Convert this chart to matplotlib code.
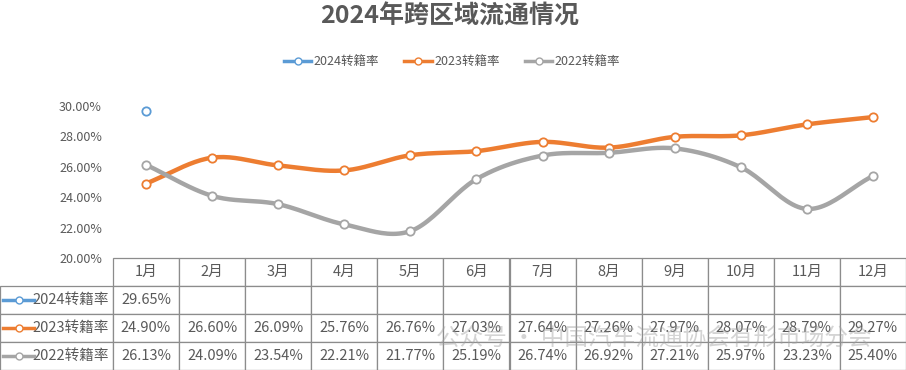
import numpy as np
import matplotlib.pyplot as plt
from matplotlib.lines import Line2D

plt.rcParams['font.family'] = ['Noto Sans CJK SC', 'DejaVu Sans']

months = ['1月', '2月', '3月', '4月', '5月', '6月', '7月', '8月', '9月', '10月', '11月', '12月']
rate_2024 = [29.65]
rate_2023 = [24.90, 26.60, 26.09, 25.76, 26.76, 27.03, 27.64, 27.26, 27.97, 28.07, 28.79, 29.27]
rate_2022 = [26.13, 24.09, 23.54, 22.21, 21.77, 25.19, 26.74, 26.92, 27.21, 25.97, 23.23, 25.40]
series_names = ['2024转籍率', '2023转籍率', '2022转籍率']
colors = ['#5B9BD5', '#ED7D31', '#A5A5A5']
text_gray = '#595959'


def smooth(y, n=24):
    # Catmull-Rom curve through the points, like a smoothed Excel line
    x = np.arange(len(y), dtype=float)
    y = np.asarray(y, dtype=float)
    px = np.concatenate([[2 * x[0] - x[1]], x, [2 * x[-1] - x[-2]]])
    py = np.concatenate([[2 * y[0] - y[1]], y, [2 * y[-1] - y[-2]]])
    xs, ys = [], []
    t = np.linspace(0, 1, n)
    for i in range(1, len(px) - 2):
        for p, out in ((px, xs), (py, ys)):
            p0, p1, p2, p3 = p[i - 1], p[i], p[i + 1], p[i + 2]
            out.extend(0.5 * ((2 * p1) + (-p0 + p2) * t
                              + (2 * p0 - 5 * p1 + 4 * p2 - p3) * t ** 2
                              + (-p0 + 3 * p1 - 3 * p2 + p3) * t ** 3))
    return xs, ys


W, H = 906, 370
fig = plt.figure(figsize=(W / 100, H / 100), dpi=100)
ax_left, ax_right, ax_bottom, ax_top = 113, 906, 258, 106
ax = fig.add_axes([ax_left / W, 1 - ax_bottom / H, (ax_right - ax_left) / W, (ax_bottom - ax_top) / H])

all_series = [rate_2024, rate_2023, rate_2022]
for vals, c in zip(all_series, colors):
    xi = np.arange(len(vals))
    if len(vals) > 1:
        sx, sy = smooth(vals)
        ax.plot(sx, sy, color=c, lw=3.2, solid_capstyle='round', zorder=2, clip_on=False)
    ax.plot(xi, vals, ls='none', marker='o', ms=6, mfc='white', mec=c, mew=1.3,
            zorder=3, clip_on=False)

ax.set_xlim(-0.5, 11.5)
ax.set_ylim(20, 30)
ax.set_yticks(np.arange(20, 31, 2))
ax.set_yticklabels([f'{v:.2f}%' for v in np.arange(20, 31, 2)], color=text_gray, fontsize=9)
ax.tick_params(axis='y', length=0, pad=8)
ax.set_xticks([])
for s in ax.spines.values():
    s.set_visible(False)

# data table under the plot; first column holds the series names
cell_text = []
for name, vals in zip(series_names, all_series):
    row = [name] + [f'{v:.2f}%' for v in vals] + [''] * (12 - len(vals))
    cell_text.append(row)

aw = (ax_right - ax_left)
ah = (ax_bottom - ax_top)
col_w = 1 / 12
tbl = ax.table(cellText=cell_text, colLabels=[''] + months, cellLoc='center',
               colWidths=[col_w * ax_left / (aw / 12)] + [col_w] * 12,
               bbox=[-ax_left / aw, -(H - ax_bottom) / ah, W / aw, (H - ax_bottom) / ah])
tbl.auto_set_font_size(False)
tbl.set_fontsize(10.5)
for (r, c), cell in tbl.get_celld().items():
    cell.set_edgecolor('#8C8C8C')
    cell.set_linewidth(0.9)
    cell.get_text().set_color(text_gray)
    if c == 0:
        cell.get_text().set_ha('right')
        cell.PAD = 0.04
        cell._loc = 'right'
        if r == 0:
            cell.visible_edges = ''

# legend keys inside the row label cells
row_h = (H - ax_bottom) / 4
for i, c in enumerate(colors):
    yc = 1 - (ax_bottom + row_h * (i + 1.5)) / H
    fig.add_artist(Line2D([3 / W, 34 / W], [yc, yc], color=c, lw=2.5, transform=fig.transFigure))
    fig.add_artist(Line2D([18.5 / W], [yc], ls='none', marker='o', ms=5, mfc='white', mec=c,
                          mew=1, transform=fig.transFigure))

# legend at top
handles = [Line2D([], [], color=c, lw=2.5, marker='o', ms=5, mfc='white', mec=c, mew=1)
           for c in colors]
fig.legend(handles, series_names, loc='center', bbox_to_anchor=(452 / W, 1 - 62 / H), ncol=3,
           frameon=False, fontsize=9, labelcolor=text_gray, handlelength=2.2,
           handletextpad=0.2, columnspacing=2.0)

fig.text(450 / W, 1 - 17 / H, '2024年跨区域流通情况', ha='center', va='center',
         fontsize=18, fontweight='bold', color=text_gray)

# watermark
fig.text(436 / W, 1 - 338 / H, '公众号 · 中国汽车流通协会有形市场分会', ha='left', va='center',
         fontsize=17, color='#A0A0A0', alpha=0.45, zorder=10)

fig.savefig('out.png', dpi=100)
